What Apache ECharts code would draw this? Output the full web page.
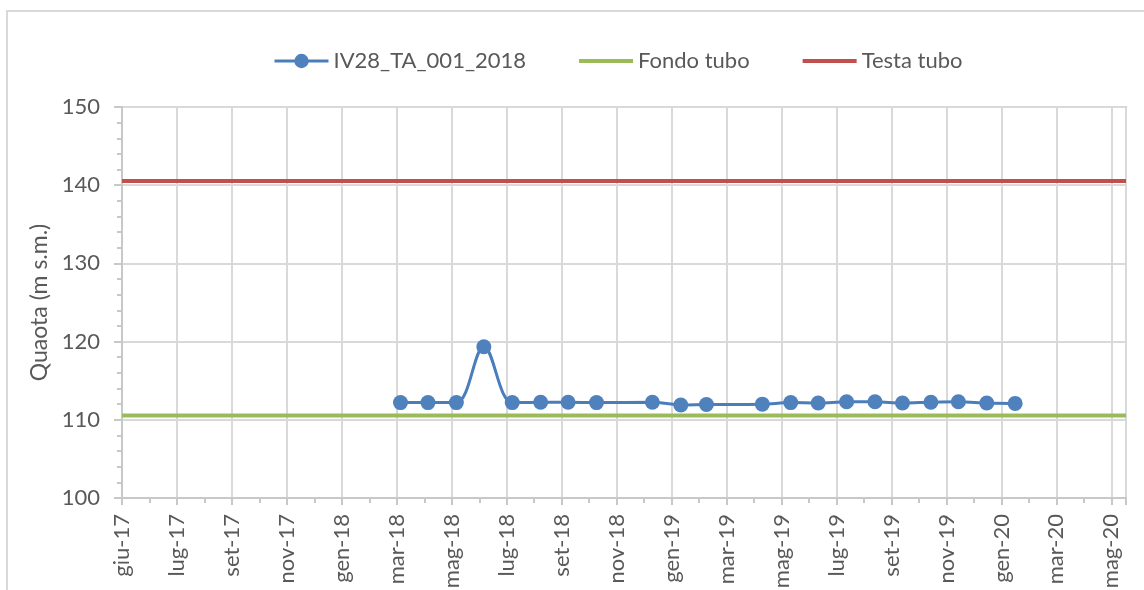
<!DOCTYPE html>
<html>
<head>
<meta charset="utf-8">
<title>IV28_TA_001_2018</title>
<script src="https://cdn.jsdelivr.net/npm/echarts@6/dist/echarts.min.js"></script>
<style>
  html, body { margin: 0; padding: 0; background: #ffffff; }
  #chart { width: 1144px; height: 590px; }
</style>
</head>
<body>
<div id="chart"></div>
<script>
// Italian month abbreviations used by the date tick labels
const monthNames = ['gen', 'feb', 'mar', 'apr', 'mag', 'giu', 'lug', 'ago', 'set', 'ott', 'nov', 'dic'];

// Piezometer readings (quota, m s.m.)
const readingDates = [
  '2018-04-01', '2018-05-01', '2018-06-01', '2018-07-01', '2018-08-01', '2018-09-01',
  '2018-10-01', '2018-11-01', '2019-01-01', '2019-02-01', '2019-03-01', '2019-05-01',
  '2019-06-01', '2019-07-01', '2019-08-01', '2019-09-01', '2019-10-01', '2019-11-01',
  '2019-12-01', '2020-01-01', '2020-02-01'
];
const readingLevels = [
  112.2, 112.2, 112.2, 119.35, 112.2, 112.25,
  112.25, 112.2, 112.25, 111.9, 111.95, 112.0,
  112.2, 112.15, 112.3, 112.3, 112.15, 112.25,
  112.3, 112.15, 112.1
];

// Tube reference levels
const fondoTubo = 110.55;
const testaTubo = 140.55;

// Axis ranges
const axisStart = '2017-06-01';
const axisEnd = '2020-06-01';
const tickDays = 60;
const yMin = 100, yMax = 150, yStep = 10;

const DAY = 86400000;
const toTime = s => Date.parse(s + 'T00:00:00Z');
const xMin = toTime(axisStart);
const xMax = toTime(axisEnd);

const seriesData = readingDates.map((d, i) => [toTime(d), readingLevels[i]]);
const fondoData = [[xMin, fondoTubo], [xMax, fondoTubo]];
const testaData = [[xMin, testaTubo], [xMax, testaTubo]];

const FONT = 'Lato';
const FONT_SIZE = 22;
const TEXT = '#595959';

const chart = echarts.init(document.getElementById('chart'), null, { renderer: 'canvas' });

chart.setOption({
  animation: false,
  backgroundColor: '#ffffff',
  textStyle: { fontFamily: FONT, color: TEXT },
  graphic: [{
    type: 'rect',
    shape: { x: 7, y: 11, width: 1200, height: 700 },
    style: { fill: 'none', stroke: '#d9d9d9', lineWidth: 2 },
    silent: true,
    z: -10
  }],
  legend: {
    left: 268,
    top: 45,
    itemWidth: 54,
    itemHeight: 18,
    itemGap: 51,
    textStyle: { fontFamily: FONT, fontSize: FONT_SIZE, color: TEXT },
    data: [
      { name: 'IV28_TA_001_2018', lineStyle: { width: 3 } },
      { name: 'Fondo tubo', itemStyle: { opacity: 0 }, lineStyle: { width: 4 } },
      { name: 'Testa tubo', itemStyle: { opacity: 0 }, lineStyle: { width: 4 } }
    ]
  },
  grid: {
    left: 122,
    right: 18,
    top: 107,
    bottom: 92,
    containLabel: false,
    outerBoundsMode: 'none',
    show: true,
    borderColor: '#c8c8c8',
    borderWidth: 2,
    backgroundColor: 'transparent'
  },
  xAxis: {
    type: 'value',
    min: xMin,
    max: xMax,
    interval: tickDays * DAY,
    axisLine: { show: true, lineStyle: { color: '#c8c8c8', width: 2 } },
    axisTick: { show: true, length: 7, lineStyle: { color: '#c8c8c8', width: 2 } },
    minorTick: { show: true, splitNumber: 2, length: 5, lineStyle: { color: '#c8c8c8', width: 2 } },
    splitLine: { show: true, lineStyle: { color: '#d9d9d9', width: 2 } },
    axisLabel: {
      rotate: 90,
      margin: 16,
      showMaxLabel: false,
      fontFamily: FONT,
      fontSize: FONT_SIZE,
      color: TEXT,
      formatter: v => {
        if ((v - xMin) % (tickDays * DAY) !== 0) return '';
        const d = new Date(v);
        return monthNames[d.getUTCMonth()] + '-' + String(d.getUTCFullYear()).slice(2);
      }
    }
  },
  yAxis: {
    type: 'value',
    min: yMin,
    max: yMax,
    interval: yStep,
    name: 'Quaota (m s.m.)',
    nameLocation: 'middle',
    nameGap: 66,
    nameTextStyle: { fontFamily: FONT, fontSize: 23, color: TEXT },
    axisLine: { show: true, lineStyle: { color: '#c8c8c8', width: 2 } },
    axisTick: { show: true, length: 8, lineStyle: { color: '#c8c8c8', width: 2 } },
    minorTick: { show: true, splitNumber: 5, length: 5, lineStyle: { color: '#c8c8c8', width: 2 } },
    splitLine: { show: true, lineStyle: { color: '#d9d9d9', width: 2 } },
    axisLabel: { margin: 22, fontFamily: FONT, fontSize: FONT_SIZE, color: TEXT }
  },
  series: [
    {
      name: 'IV28_TA_001_2018',
      type: 'line',
      data: seriesData,
      smooth: 0.35,
      symbol: 'circle',
      symbolSize: 15,
      color: '#4f81bd',
      lineStyle: { color: '#4a7ebb', width: 3 },
      itemStyle: { color: '#4f81bd', borderWidth: 0 },
      z: 5
    },
    {
      name: 'Fondo tubo',
      type: 'line',
      data: fondoData,
      symbol: 'none',
      color: '#9bbb59',
      lineStyle: { color: '#9bbb59', width: 4 },
      z: 3
    },
    {
      name: 'Testa tubo',
      type: 'line',
      data: testaData,
      symbol: 'none',
      color: '#c0504d',
      lineStyle: { color: '#c0504d', width: 4 },
      z: 3
    }
  ]
});
</script>
</body>
</html>
